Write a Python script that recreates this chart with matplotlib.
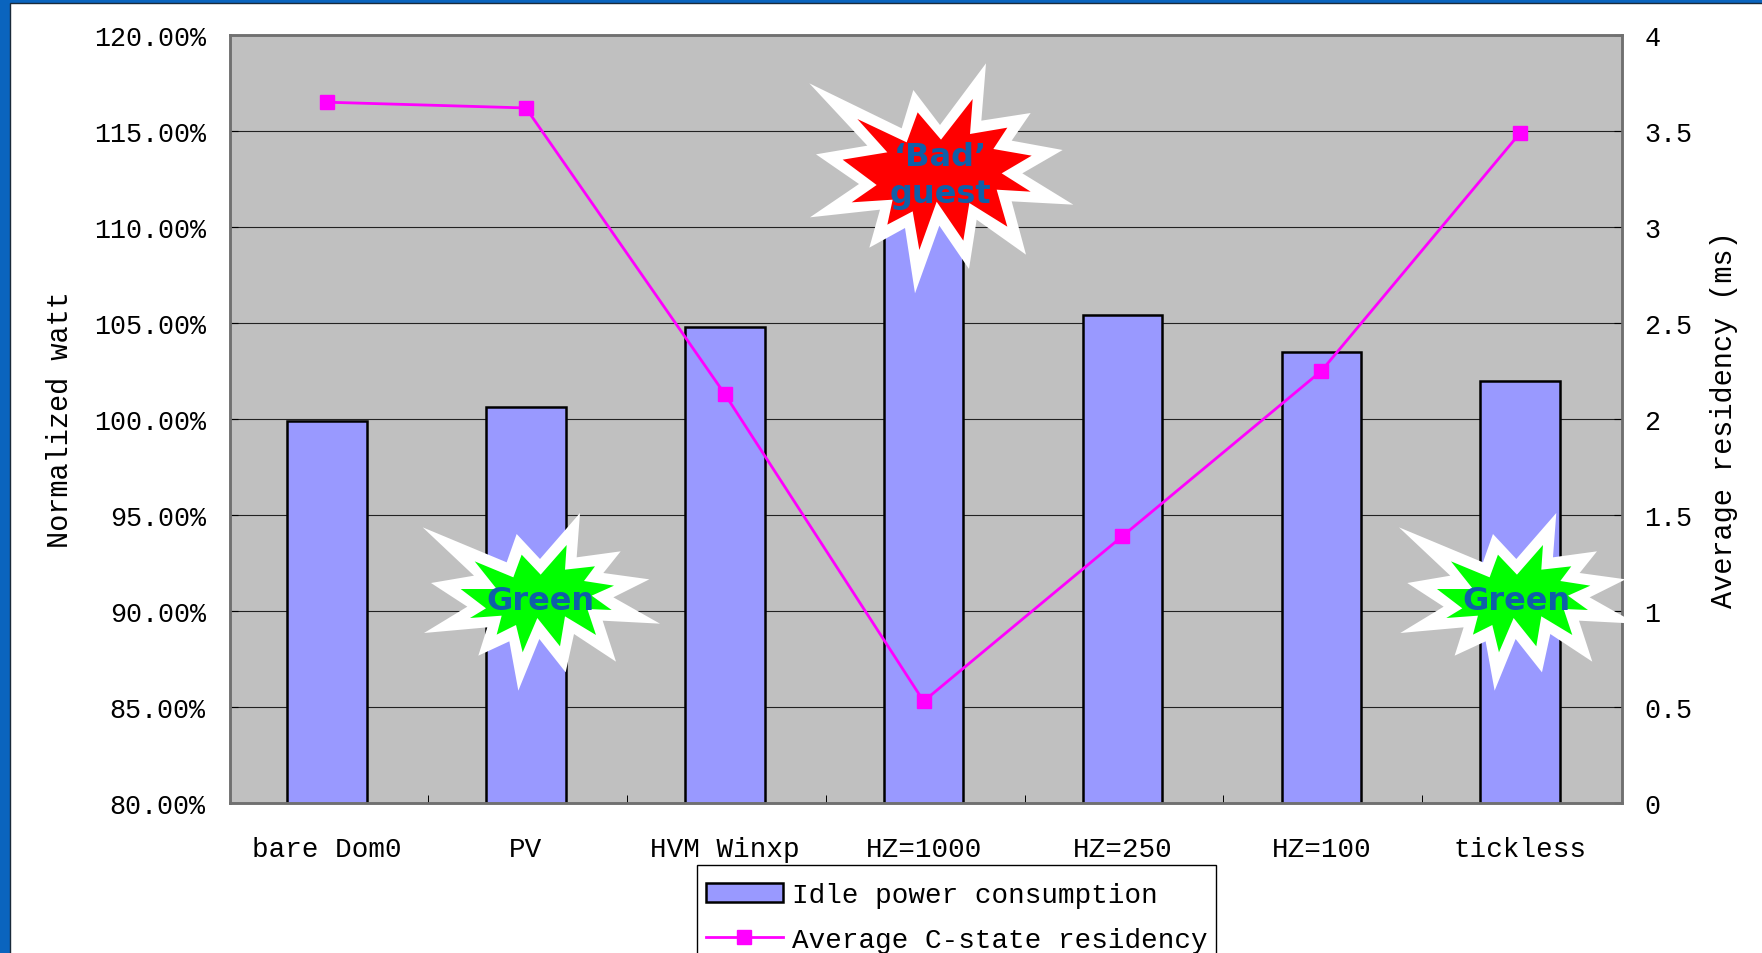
import matplotlib
matplotlib.use('Agg')
import matplotlib.pyplot as plt
from matplotlib.patches import Polygon, Rectangle
from matplotlib.transforms import Affine2D

# --- Data ---
categories = ['bare Dom0', 'PV', 'HVM Winxp', 'HZ=1000', 'HZ=250', 'HZ=100', 'tickless']
idle_power = [99.9, 100.65, 104.8, 112.0, 105.4, 103.5, 102.0]
residency = [3.65, 3.62, 2.13, 0.53, 1.39, 2.25, 3.49]

power_ticks = [80, 85, 90, 95, 100, 105, 110, 115, 120]
power_labels = [f'{t:.2f}%' for t in power_ticks]
residency_ticks = [0, 0.5, 1, 1.5, 2, 2.5, 3, 3.5, 4]
residency_labels = ['0', '0.5', '1', '1.5', '2', '2.5', '3', '3.5', '4']

# --- Burst outlines, in pixels from the top left of the figure ---
bad_outer = [(88, 103), (365, 238), (400, 123), (480, 228), (618, 43), (604, 215),
             (752, 192), (695, 275), (848, 303), (727, 373), (880, 467), (695, 457),
             (738, 617), (590, 512), (567, 660), (478, 530), (405, 733), (375, 537),
             (268, 596), (300, 482), (90, 505), (237, 405), (108, 316), (262, 290)]
bad_inner = [(232, 210), (380, 280), (413, 190), (483, 272), (578, 150), (570, 255),
             (682, 236), (640, 300), (755, 320), (665, 373), (752, 428), (650, 422),
             (682, 533), (568, 462), (550, 575), (470, 458), (418, 603), (398, 487),
             (322, 527), (338, 452), (215, 460), (290, 408), (188, 332), (322, 310)]
green_outer = [(68, 85), (320, 190), (350, 105), (420, 180), (540, 42), (530, 175),
               (662, 157), (610, 222), (748, 241), (640, 295), (780, 374), (608, 365),
               (648, 488), (522, 405), (497, 520), (418, 420), (355, 575), (328, 427),
               (235, 470), (262, 385), (72, 402), (202, 323), (93, 252), (222, 230)]
green_inner = [(224, 187), (340, 235), (365, 167), (422, 227), (500, 138), (495, 212),
               (585, 202), (552, 246), (642, 260), (575, 290), (635, 333), (562, 330),
               (588, 408), (495, 352), (480, 442), (412, 357), (368, 460), (348, 378),
               (290, 407), (305, 350), (210, 357), (258, 328), (182, 270), (290, 270)]

# --- Figure and page frame ---
W, H = 1762, 954
fig = plt.figure(figsize=(W / 100, H / 100), dpi=100, facecolor='#0A64BE')
px = Affine2D().scale(1, -1).translate(0, H)
fig.add_artist(Rectangle((10, 4), W, H, transform=px, facecolor='white',
                         edgecolor='#1a2a3a', linewidth=1.0, zorder=-1))

ax = fig.add_axes([230 / W, 1 - 804 / H, (1622 - 230) / W, (804 - 36) / H])
ax.set_facecolor('#C0C0C0')
font = 'Liberation Mono'

# --- Bars on the left axis ---
x = list(range(len(categories)))
bars = ax.bar(x, idle_power, width=0.4, color='#9999FF', edgecolor='black',
              linewidth=1.8, label='Idle power consumption')
ax.set_xlim(-0.488, len(categories) - 0.488)
ax.set_ylim(80, 120)
ax.set_yticks(power_ticks)
ax.set_yticklabels(power_labels, fontsize=19.3, family=font)
ax.set_xticks(x)
ax.set_xticklabels(categories, fontsize=19.9, family=font)
ax.set_xticks([i + 0.508 for i in x[:-1]], minor=True)
ax.tick_params(axis='x', which='major', length=0, pad=24)
ax.tick_params(axis='x', which='minor', direction='in', length=6, width=0.7)
ax.tick_params(axis='y', direction='in', length=6, width=0.8, pad=17.5)
ax.grid(True, axis='y', color='#222222', linewidth=0.8)
ax.set_axisbelow(True)
ax.set_ylabel('Normalized watt', fontsize=20.6, family=font)
ax.yaxis.set_label_coords(-0.112, 0.5)

# --- Line on the right axis ---
ax2 = ax.twinx()
line, = ax2.plot(x, residency, color='#FF00FF', linewidth=2.0, marker='s',
                 markersize=10.5, label='Average C-state residency')
ax2.set_ylim(0, 4)
ax2.set_yticks(residency_ticks)
ax2.set_yticklabels(residency_labels, fontsize=19.3, family=font)
ax2.tick_params(axis='y', direction='in', length=6, width=0.8, pad=16)
ax2.set_ylabel('Average residency (ms)', fontsize=20.6, family=font)
ax2.yaxis.set_label_coords(1.0635, 0.5)

for a in (ax, ax2):
    for spine in a.spines.values():
        spine.set_color('#707070')
        spine.set_linewidth(1.8)

# --- Legend, running off the bottom edge of the page ---
fig.add_artist(Rectangle((697, 866), 519, 120, transform=px, facecolor='white',
                         edgecolor='black', linewidth=1.0, zorder=4))
legend = fig.legend(handles=[bars, line], loc='upper left',
                    bbox_to_anchor=(696 / W, 1 - 873 / H), borderaxespad=0,
                    prop={'family': font, 'size': 19.9}, frameon=False,
                    borderpad=0.36, labelspacing=0.69, handlelength=2.77,
                    handletextpad=0.34)
legend.set_zorder(5)


# --- Burst callouts ---
def burst(outer, inner, fill, ox, oy):
    # outlines are traced at 3x, so bring them back to figure pixels
    for pts, color, z in ((outer, 'white', 10), (inner, fill, 11)):
        xy = [(ox + a / 3, oy + b / 3) for a, b in pts]
        fig.add_artist(Polygon(xy, closed=True, transform=px, facecolor=color,
                               edgecolor='none', zorder=z))


def burst_text(s, cx, cy):
    fig.text(cx / W, 1 - cy / H, s, ha='center', va='center', color='#0F5FA8',
             fontsize=23, fontweight='bold', family='DejaVu Sans', zorder=12)


burst(bad_outer, bad_inner, '#FF0000', 780, 50)
burst(green_outer, green_inner, '#00FF00', 400, 500)
burst(green_outer, green_inner, '#00FF00', 1376.3, 500)

burst_text('\u2018Bad\u2019', 940, 157)
burst_text('guest', 940, 195)
burst_text('Green', 540, 601)
burst_text('Green', 1516, 601)

plt.savefig('out.png', dpi=100, facecolor=fig.get_facecolor())
